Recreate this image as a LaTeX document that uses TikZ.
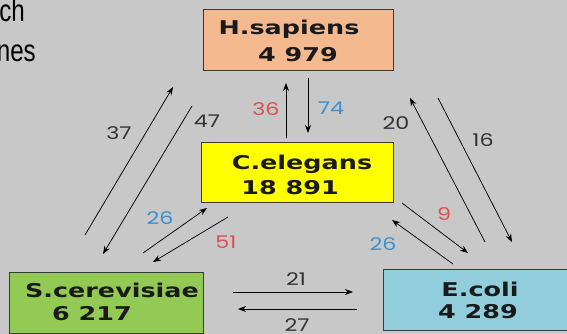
\documentclass[tikz,border=0pt]{standalone}
\usepackage{fontspec}
\usetikzlibrary{arrows.meta}
\newfontfamily\boxf[FakeStretch=1.34]{DejaVu Sans}
\newfontfamily\lblf[FakeStretch=1.27]{Poppins}
\newfontfamily\ttlf{Liberation Sans}
\definecolor{bgc}{HTML}{C8C8C8}
\definecolor{peach}{HTML}{F5B98F}
\definecolor{yell}{HTML}{FFFF00}
\definecolor{grn}{HTML}{93C955}
\definecolor{lblue}{HTML}{92CDDC}
\definecolor{redl}{HTML}{DE4F4F}
\definecolor{bluel}{HTML}{3A8FD0}
\definecolor{txt}{HTML}{1A1A1A}
\definecolor{brd}{HTML}{3A3A30}
\tikzset{
  box/.style={draw=brd, line width=0.9pt, inner sep=0pt},
  boxtext/.style={anchor=base, inner sep=0pt, text=txt, font=\boxf\bfseries\fontsize{19}{21}\selectfont},
  lbl/.style={inner sep=0pt, text=black!80, font=\lblf\fontsize{17.5}{19}\selectfont},
  arr/.style={line width=0.75pt, -{Stealth[length=8pt,width=6pt]}},
  ttl/.style={anchor=base east, inner sep=0pt, text=black, font=\ttlf\fontsize{31}{33}\selectfont}
}
\begin{document}
\begin{tikzpicture}[x=1pt,y=-1pt]
\fill[bgc] (0,0) rectangle (567,334);
\useasboundingbox (0,0) rectangle (567,334);
\clip (0,0) rectangle (567,334);

% title fragments
\node[ttl] (t1) at (25,22) {\scalebox{0.78}[1]{ch}};
\node[ttl] (t2) at (36,62) {\scalebox{0.78}[1]{nes}};

% boxes
\node[box, fill=peach, minimum width=190pt, minimum height=61pt] (hs) at (298,39.5) {};
\node[box, fill=yell, minimum width=192pt, minimum height=60pt] (ce) at (297,172) {};
\node[box, fill=grn, minimum width=194pt, minimum height=61pt] (sc) at (106.5,302.5) {};
\node[box, fill=lblue, minimum width=200pt, minimum height=61pt] (ec) at (483,299.5) {};

% box texts
\node[boxtext] (hs1) at (289,35) {H.sapiens};
\node[boxtext] (hs2) at (298,62) {4 979};
\node[boxtext] (ce1) at (302,169) {C.elegans};
\node[boxtext] (ce2) at (290,194) {18 891};
\node[boxtext] (sc1) at (112,297) {S.cerevisiae};
\node[boxtext] (sc2) at (92,320) {6 217};
\node[boxtext] (ec1) at (480,296) {E.coli};
\node[boxtext] (ec2) at (478,318) {4 289};

% arrow end points
\coordinate (a37s) at (85,235);  \coordinate (a37e) at (173,87);
\coordinate (a47s) at (192,106); \coordinate (a47e) at (103,254);
\coordinate (a20s) at (485,242); \coordinate (a20e) at (410,98);
\coordinate (a16s) at (438,98);  \coordinate (a16e) at (512,242);
\coordinate (a36s) at (286,138); \coordinate (a36e) at (286,83);
\coordinate (a74s) at (308,78);  \coordinate (a74e) at (308,133);
\coordinate (b26s) at (143,253); \coordinate (b26e) at (207,208);
\coordinate (a51s) at (228,217); \coordinate (a51e) at (153,262);
\coordinate (a9s) at (402,203);  \coordinate (a9e) at (468,253);
\coordinate (c26s) at (453,264); \coordinate (c26e) at (392,220);
\coordinate (a21s) at (233,292); \coordinate (a21e) at (353,292);
\coordinate (a27s) at (357,309); \coordinate (a27e) at (238,309);

% arrows
\draw[arr] (a37s) -- (a37e);
\draw[arr] (a47s) -- (a47e);
\draw[arr] (a20s) -- (a20e);
\draw[arr] (a16s) -- (a16e);
\draw[arr] (a36s) -- (a36e);
\draw[arr] (a74s) -- (a74e);
\draw[arr] (b26s) -- (b26e);
\draw[arr] (a51s) -- (a51e);
\draw[arr] (a9s) -- (a9e);
\draw[arr] (c26s) -- (c26e);
\draw[arr] (a21s) -- (a21e);
\draw[arr] (a27s) -- (a27e);

% arrow labels
\node[lbl, text=redl] (l36) at (266,109) {36};
\node[lbl, text=bluel] (l74) at (331,108) {74};
\node[lbl] (l47) at (207,121) {47};
\node[lbl] (l37) at (119,133) {37};
\node[lbl] (l20) at (396,123) {20};
\node[lbl] (l16) at (483,140) {16};
\node[lbl, text=bluel] (l26a) at (160,218) {26};
\node[lbl, text=redl] (l51) at (226,242) {51};
\node[lbl, text=redl] (l9) at (444,214) {9};
\node[lbl, text=bluel] (l26b) at (383,244) {26};
\node[lbl] (l21) at (296,279) {21};
\node[lbl] (l27) at (297,325) {27};
\end{tikzpicture}
\end{document}
